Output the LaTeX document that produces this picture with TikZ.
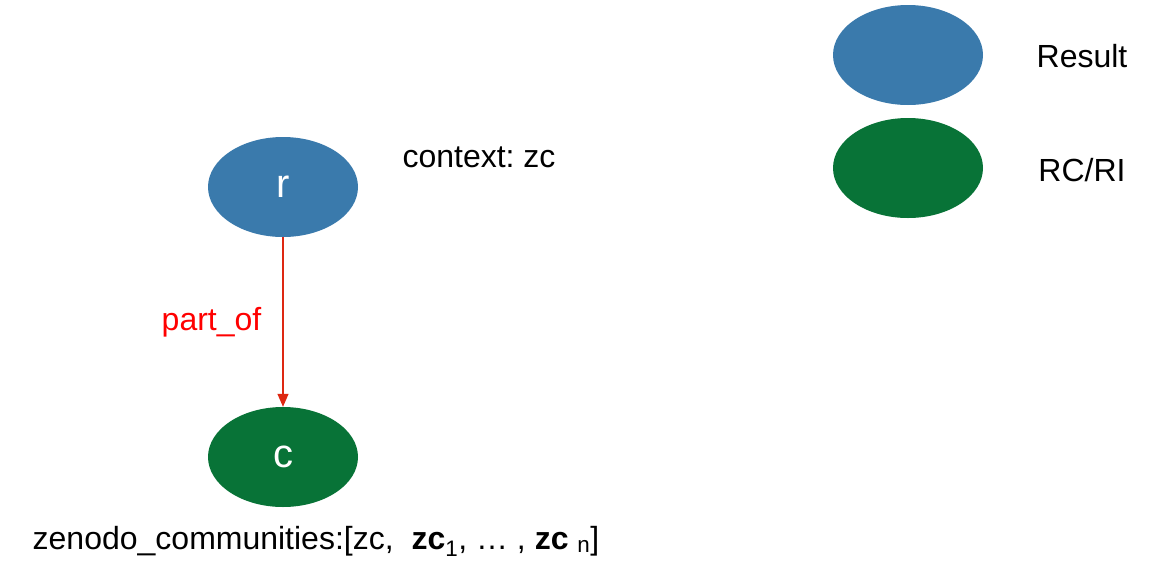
\documentclass[tikz,border=0pt]{standalone}
\usepackage{xcolor}
\usepackage{fontspec}
\setmainfont{Liberation Sans}
\usepackage{tikz}
\usetikzlibrary{shapes.geometric}
\usetikzlibrary{arrows.meta}
\usetikzlibrary{positioning}

\definecolor{resultblue}{RGB}{58,122,172}
\definecolor{rcgreen}{RGB}{8,115,55}
\definecolor{linkred}{RGB}{222,40,18}

\tikzset{
  entity/.style={shape=ellipse,minimum width=150pt,minimum height=100pt,inner sep=0pt,text=white,font=\fontsize{40}{44}\selectfont},
  result/.style={entity,fill=resultblue},
  rcri/.style={entity,fill=rcgreen},
  plain/.style={font=\fontsize{32}{36}\selectfont,inner sep=0pt},
}
\frenchspacing

\begin{document}
\begin{tikzpicture}[x=1pt,y=-1pt]
  \useasboundingbox (0,0) rectangle (1160,579);

  % the graph
  \node[result] (r) at (283,187) {r};
  \node[rcri] (c) at (283,457) {c};
  \draw[line width=1.3pt,linkred,-{Triangle[length=13pt,width=11pt]}] (r) -- node[left=21pt,text=red,plain] (partof) {part\_of} (c);

  % what is attached to the nodes
  \node[plain] (context) at (479,157) {context: zc};
  \node[plain] (communities) at (316,541) {zenodo\_communities:[zc,\ \ \textbf{zc}\textsubscript{1}, \dots\ , \textbf{zc}\ \textsubscript{n}]};

  % legend
  \node[result] (legresult) at (908,55) {};
  \node[rcri] (legrcri) at (908,168) {};
  \node[plain] (txtresult) at (1082,56) {Result};
  \node[plain] (txtrcri) at (1082,170) {RC/RI};

\end{tikzpicture}
\end{document}
